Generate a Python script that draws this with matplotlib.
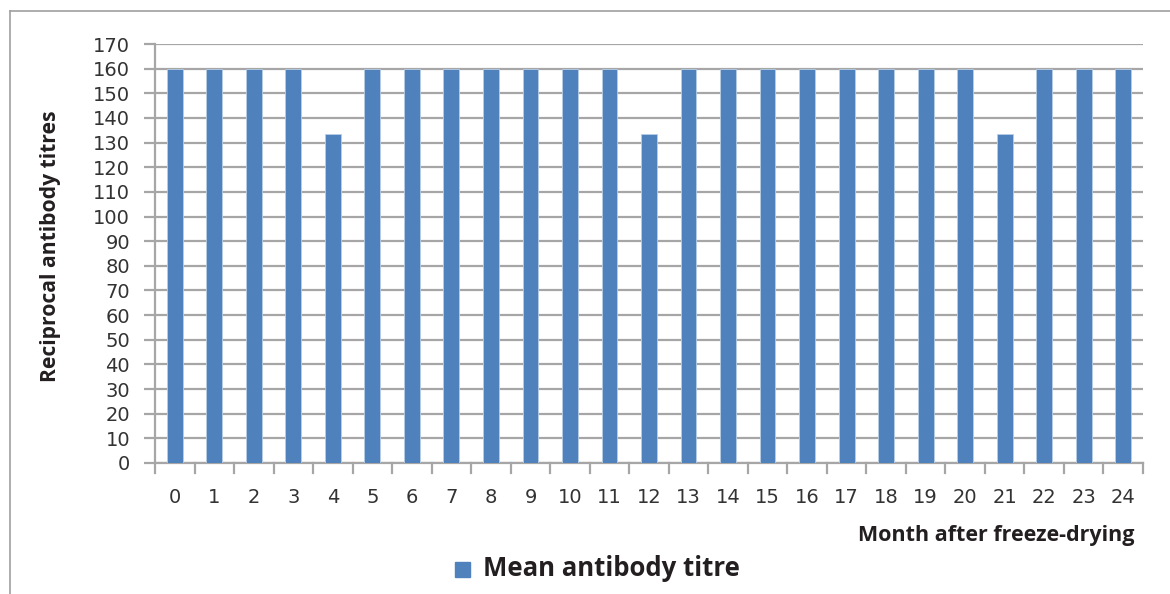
import matplotlib
matplotlib.use("Agg")
import matplotlib.pyplot as plt
from matplotlib.patches import Rectangle
from matplotlib.lines import Line2D

# mean titre per month after freeze-drying
months = [str(m) for m in range(25)]
titres = [160, 160, 160, 160, 133.3, 160, 160, 160, 160, 160, 160, 160, 133.3,
          160, 160, 160, 160, 160, 160, 160, 160, 133.3, 160, 160, 160]
y_ticks = list(range(0, 171, 10))

bar_color = "#4f81bd"
grid_color = "#a6a6a6"
label_color = "#231f20"
tick_font = dict(family="DejaVu Sans", size=14, color="#333333")

fig = plt.figure(figsize=(11.7, 5.94), dpi=100)
ax = fig.add_axes([155 / 1170, 1 - 463 / 594, (1143 - 155) / 1170, (463 - 44) / 594])

x = list(range(len(months)))
ax.bar(x, titres, width=0.4, color=bar_color, edgecolor="#b9cde5", linewidth=0.6, zorder=3)

ax.set_xlim(-0.5, len(months) - 0.5)
ax.set_ylim(0, 170)
ax.set_yticks(y_ticks)
ax.set_yticklabels([str(t) for t in y_ticks], **tick_font)
ax.yaxis.grid(True, color=grid_color, linewidth=1.6, zorder=0)

# category labels sit under the bars, tick marks between them
ax.set_xticks(x)
ax.set_xticklabels(months, **tick_font)
ax.tick_params(axis="x", length=0, pad=18)
for b in range(len(months) + 1):
    ax.add_line(Line2D([b - 0.5, b - 0.5], [0, -0.025], transform=ax.get_xaxis_transform(),
                       color=grid_color, linewidth=1.6, clip_on=False))
ax.tick_params(axis="y", length=8, width=1.6, color=grid_color, pad=10)

for side in ("top", "right"):
    ax.spines[side].set_visible(False)
for side in ("left", "bottom"):
    ax.spines[side].set_color(grid_color)
    ax.spines[side].set_linewidth(1.6)

fig.text(51 / 1170, 1 - 246 / 594, "Reciprocal antibody titres", rotation=90,
         ha="center", va="center", fontsize=15.2, fontweight="bold",
         family="Open Sans", color=label_color)
fig.text(1135 / 1170, 1 - 535 / 594, "Month after freeze-drying", ha="right",
         va="center", fontsize=15.5, fontweight="bold", family="Open Sans", color=label_color)

# legend entry
fig.patches.append(Rectangle((455 / 1170, 1 - 577 / 594), 15 / 1170, 15 / 594,
                             transform=fig.transFigure, color=bar_color))
fig.text(483 / 1170, 1 - 569 / 594, "Mean antibody titre", ha="left", va="center",
         fontsize=18.5, fontweight="bold", family="Open Sans", color=label_color)

# frame around the chart area
fig.add_artist(Line2D([10 / 1170, 10 / 1170], [0, 1 - 11 / 594], transform=fig.transFigure,
                      color="#a0a0a0", linewidth=1.2))
fig.add_artist(Line2D([10 / 1170, 1], [1 - 11 / 594, 1 - 11 / 594], transform=fig.transFigure,
                      color="#a0a0a0", linewidth=1.2))

fig.savefig("out.png", dpi=100)
